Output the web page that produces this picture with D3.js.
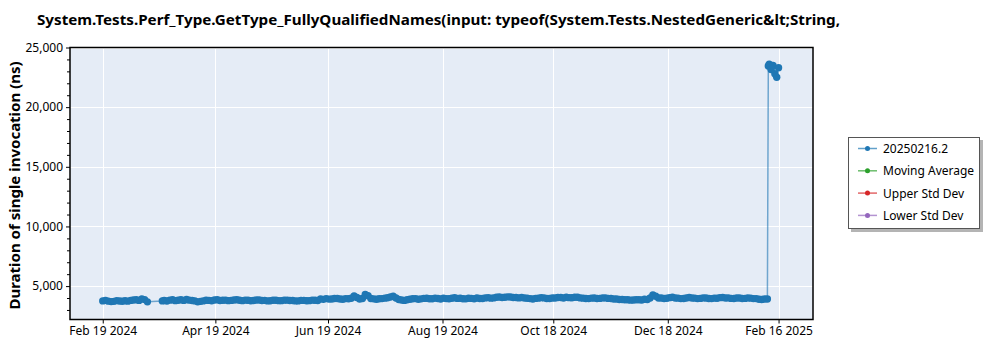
<!DOCTYPE html>
<html>
<head>
<meta charset="utf-8">
<script src="https://cdn.jsdelivr.net/npm/d3@7"></script>
<style>
  body { margin: 0; background: #fff; }
  text { font-family: "Noto Sans", "Open Sans", sans-serif; }
</style>
</head>
<body>
<div id="chart"></div>
<script>
// run dates (one row per month) and measured duration in ns, same row layout
const runDates = [
  "2024-02-19", "2024-02-20T12:00", "2024-02-22", "2024-02-23T12:00", "2024-02-25", "2024-02-26T12:00", "2024-02-28", "2024-02-29T12:00",
  "2024-03-02", "2024-03-03T12:00", "2024-03-05", "2024-03-06T12:00", "2024-03-08", "2024-03-09T12:00", "2024-03-11", "2024-03-12T12:00", "2024-03-14", "2024-03-22", "2024-03-23", "2024-03-24T12:00", "2024-03-26", "2024-03-27T12:00", "2024-03-29", "2024-03-30T12:00",
  "2024-04-01", "2024-04-02T12:00", "2024-04-04", "2024-04-05T12:00", "2024-04-07", "2024-04-08T12:00", "2024-04-10", "2024-04-11T12:00", "2024-04-13", "2024-04-14T12:00", "2024-04-16", "2024-04-17T12:00", "2024-04-19", "2024-04-20T12:00", "2024-04-22", "2024-04-23T12:00", "2024-04-25", "2024-04-26T12:00", "2024-04-28", "2024-04-29T12:00",
  "2024-05-01", "2024-05-02T12:00", "2024-05-04", "2024-05-05T12:00", "2024-05-07", "2024-05-08T12:00", "2024-05-10", "2024-05-11T12:00", "2024-05-13", "2024-05-14T12:00", "2024-05-16", "2024-05-17T12:00", "2024-05-19", "2024-05-20T12:00", "2024-05-22", "2024-05-23T12:00", "2024-05-25", "2024-05-26T12:00", "2024-05-28", "2024-05-29T12:00", "2024-05-31",
  "2024-06-01T12:00", "2024-06-03", "2024-06-04T12:00", "2024-06-06", "2024-06-07T12:00", "2024-06-09", "2024-06-10T12:00", "2024-06-12", "2024-06-13T12:00", "2024-06-15", "2024-06-16T12:00", "2024-06-18", "2024-06-19T12:00", "2024-06-21", "2024-06-22T12:00", "2024-06-24", "2024-06-25T12:00", "2024-06-27", "2024-06-28T12:00", "2024-06-30",
  "2024-07-01T12:00", "2024-07-03", "2024-07-04T12:00", "2024-07-06", "2024-07-07T12:00", "2024-07-09", "2024-07-10T12:00", "2024-07-12", "2024-07-13T12:00", "2024-07-15", "2024-07-16T12:00", "2024-07-18", "2024-07-19T12:00", "2024-07-21", "2024-07-22T12:00", "2024-07-24", "2024-07-25T12:00", "2024-07-27", "2024-07-28T12:00", "2024-07-30", "2024-07-31T12:00",
  "2024-08-02", "2024-08-03T12:00", "2024-08-05", "2024-08-06T12:00", "2024-08-08", "2024-08-09T12:00", "2024-08-11", "2024-08-12T12:00", "2024-08-14", "2024-08-15T12:00", "2024-08-17", "2024-08-18T12:00", "2024-08-20", "2024-08-21T12:00", "2024-08-23", "2024-08-24T12:00", "2024-08-26", "2024-08-27T12:00", "2024-08-29", "2024-08-30T12:00",
  "2024-09-01", "2024-09-02T12:00", "2024-09-04", "2024-09-05T12:00", "2024-09-07", "2024-09-08T12:00", "2024-09-10", "2024-09-11T12:00", "2024-09-13", "2024-09-14T12:00", "2024-09-16", "2024-09-17T12:00", "2024-09-19", "2024-09-20T12:00", "2024-09-22", "2024-09-23T12:00", "2024-09-25", "2024-09-26T12:00", "2024-09-28", "2024-09-29T12:00",
  "2024-10-01", "2024-10-02T12:00", "2024-10-04", "2024-10-05T12:00", "2024-10-07", "2024-10-08T12:00", "2024-10-10", "2024-10-11T12:00", "2024-10-13", "2024-10-14T12:00", "2024-10-16", "2024-10-17T12:00", "2024-10-19", "2024-10-20T12:00", "2024-10-22", "2024-10-23T12:00", "2024-10-25", "2024-10-26T12:00", "2024-10-28", "2024-10-29T12:00", "2024-10-31",
  "2024-11-01T12:00", "2024-11-03", "2024-11-04T12:00", "2024-11-06", "2024-11-07T12:00", "2024-11-09", "2024-11-10T12:00", "2024-11-12", "2024-11-13T12:00", "2024-11-15", "2024-11-16T12:00", "2024-11-18", "2024-11-19T12:00", "2024-11-21", "2024-11-22T12:00", "2024-11-24", "2024-11-25T12:00", "2024-11-27", "2024-11-28T12:00", "2024-11-30",
  "2024-12-01T12:00", "2024-12-03", "2024-12-04T12:00", "2024-12-06", "2024-12-07T12:00", "2024-12-09", "2024-12-10T12:00", "2024-12-12", "2024-12-13T12:00", "2024-12-15", "2024-12-16T12:00", "2024-12-18", "2024-12-19T12:00", "2024-12-21", "2024-12-22T12:00", "2024-12-24", "2024-12-25T12:00", "2024-12-27", "2024-12-28T12:00", "2024-12-30", "2024-12-31T12:00",
  "2025-01-02", "2025-01-03T12:00", "2025-01-05", "2025-01-06T12:00", "2025-01-08", "2025-01-09T12:00", "2025-01-11", "2025-01-12T12:00", "2025-01-14", "2025-01-15T12:00", "2025-01-17", "2025-01-18T12:00", "2025-01-20", "2025-01-21T12:00", "2025-01-23", "2025-01-24T12:00", "2025-01-26", "2025-01-27T12:00", "2025-01-29", "2025-01-30T12:00",
  "2025-02-01", "2025-02-02T12:00", "2025-02-04", "2025-02-05T12:00", "2025-02-07", "2025-02-08T12:00", "2025-02-10T00:00", "2025-02-10T12:00", "2025-02-11", "2025-02-12", "2025-02-13", "2025-02-14", "2025-02-15", "2025-02-16"
];
const durationNs = [
  3760, 3800, 3740, 3700, 3720, 3780, 3750, 3730,
  3770, 3740, 3800, 3830, 3860, 3800, 3930, 3870, 3680, 3760, 3790, 3750, 3820, 3860, 3780, 3810,
  3850, 3800, 3880, 3820, 3790, 3760, 3680, 3720, 3760, 3810, 3800, 3770, 3830, 3860, 3790, 3810, 3820, 3780, 3800, 3840,
  3850, 3810, 3780, 3820, 3810, 3770, 3790, 3830, 3830, 3790, 3800, 3760, 3770, 3810, 3810, 3780, 3780, 3820, 3820, 3790, 3790,
  3760, 3760, 3800, 3800, 3770, 3780, 3820, 3810, 3790, 3930, 3890, 3950, 3910, 3920, 3960, 3960, 3920, 3900, 3950, 3940,
  3980, 4180, 4050, 3920, 3960, 4300, 4200, 3960, 3930, 3900, 3940, 3950, 3990, 4020, 4080, 4160, 4000, 3880, 3840, 3800, 3860,
  3900, 3940, 3950, 3900, 3930, 3970, 3980, 3940, 3940, 3990, 3960, 3920, 3990, 3950, 3940, 3980, 4020, 3970, 3980, 3940,
  3930, 3980, 3970, 3940, 4000, 3960, 3960, 4010, 4030, 3990, 4010, 4060, 4080, 4040, 4060, 4100, 4090, 4040, 4050, 4010,
  4040, 4000, 3980, 3950, 3920, 3970, 3990, 4030, 4010, 3960, 3960, 4000, 4000, 4050, 4040, 4000, 4070, 4030, 4020, 4060, 4060,
  4010, 3990, 3960, 3950, 3990, 4000, 3960, 3970, 4010, 4010, 3970, 3960, 3920, 3920, 3880, 3880, 3850, 3850, 3820, 3830,
  3850, 3860, 3830, 3900, 3880, 4000, 4250, 4150, 4000, 4000, 3960, 3980, 4030, 4060, 4000, 3990, 3950, 3960, 4000, 4050, 4000,
  3990, 3950, 3970, 4010, 4000, 3960, 3950, 3990, 3980, 4030, 4040, 4000, 4010, 3970, 3960, 4000, 4000, 3960, 3970, 4010,
  3990, 3950, 3950, 3900, 3880, 3920, 3920, 23450, 23600, 23150, 23500, 22800, 22500, 23300
];
const xTickDates = ["2024-02-19T00:00", "2024-04-19T12:00", "2024-06-19T00:00", "2024-08-19T12:00",
  "2024-10-18T00:00", "2024-12-18T12:00", "2025-02-16T00:00"];
const xDomain = ["2024-02-01T10:00", "2025-03-06T12:00"];
const yDomain = [2200, 25000];
const yMajorTicks = [5000, 10000, 15000, 20000, 25000];
const seriesNames = ["20250216.2", "Moving Average", "Upper Std Dev", "Lower Std Dev"];
const seriesColors = ["#1f77b4", "#2ca02c", "#d62728", "#9467bd"];
const titleText = "System.Tests.Perf_Type.GetType_FullyQualifiedNames(input: typeof(System.Tests.NestedGeneric&lt;String,";

const W = 1000, H = 350;
const plot = { left: 70, right: 813, top: 47.5, bottom: 319.5 };

const parse = s => new Date(s.length > 10 ? s : s + "T00:00");
const data = runDates.map((d, i) => ({ date: parse(d), value: durationNs[i] }));

const svg = d3.select("#chart").append("svg")
  .attr("width", W)
  .attr("height", H);

const x = d3.scaleTime()
  .domain(xDomain.map(parse))
  .range([plot.left, plot.right]);
const y = d3.scaleLinear()
  .domain(yDomain)
  .range([plot.bottom, plot.top]);

// plot background
svg.append("rect")
  .attr("x", plot.left)
  .attr("y", plot.top)
  .attr("width", plot.right - plot.left)
  .attr("height", plot.bottom - plot.top)
  .attr("fill", "#e5ecf6");

const xTicks = xTickDates.map(parse);

// grid
svg.append("g")
  .selectAll("line")
  .data(xTicks)
  .enter()
  .append("line")
  .attr("x1", d => Math.round(x(d)) + 0.5)
  .attr("x2", d => Math.round(x(d)) + 0.5)
  .attr("y1", plot.top)
  .attr("y2", plot.bottom)
  .attr("stroke", "#fff")
  .attr("stroke-width", 1);
svg.append("g")
  .selectAll("line")
  .data(yMajorTicks)
  .enter()
  .append("line")
  .attr("x1", plot.left)
  .attr("x2", plot.right)
  .attr("y1", d => Math.round(y(d)) + 0.5)
  .attr("y2", d => Math.round(y(d)) + 0.5)
  .attr("stroke", "#fff")
  .attr("stroke-width", 1);

// series
svg.append("clipPath").attr("id", "clip")
  .append("rect")
  .attr("x", plot.left)
  .attr("y", plot.top)
  .attr("width", plot.right - plot.left)
  .attr("height", plot.bottom - plot.top);

const series = svg.append("g").attr("clip-path", "url(#clip)");
series.append("path")
  .datum(data)
  .attr("fill", "none")
  .attr("stroke", seriesColors[0])
  .attr("stroke-opacity", 0.6)
  .attr("stroke-width", 1.5)
  .attr("d", d3.line().x(d => x(d.date)).y(d => y(d.value)));
series.selectAll("circle")
  .data(data)
  .enter()
  .append("circle")
  .attr("cx", d => x(d.date))
  .attr("cy", d => y(d.value))
  .attr("r", 3.7)
  .attr("fill", seriesColors[0]);

// axes
const xAxis = d3.axisBottom(x)
  .tickValues(xTicks)
  .tickFormat(d3.timeFormat("%b %d %Y"))
  .tickSize(4)
  .tickSizeOuter(0);
const gx = svg.append("g")
  .attr("transform", `translate(0,${plot.bottom})`)
  .call(xAxis);
gx.select(".domain").remove();
gx.selectAll("text")
  .attr("dy", "0.71em")
  .attr("y", 7)
  .style("font-size", "12px")
  .attr("fill", "#000");

const yMinor = d3.axisLeft(y)
  .tickValues(d3.range(3000, 25001, 1000).filter(v => v % 5000 !== 0))
  .tickSize(3)
  .tickFormat("")
  .tickSizeOuter(0);
const gym = svg.append("g")
  .attr("transform", `translate(${plot.left},0)`)
  .call(yMinor);
gym.select(".domain").remove();

const yAxis = d3.axisLeft(y)
  .tickValues(yMajorTicks)
  .tickFormat(d3.format(","))
  .tickSize(4)
  .tickSizeOuter(0);
const gy = svg.append("g")
  .attr("transform", `translate(${plot.left},0)`)
  .call(yAxis);
gy.select(".domain").remove();
gy.selectAll("text")
  .attr("x", -7)
  .style("font-size", "12px")
  .attr("fill", "#000");

// frame
svg.append("rect")
  .attr("x", plot.left)
  .attr("y", plot.top)
  .attr("width", plot.right - plot.left)
  .attr("height", plot.bottom - plot.top)
  .attr("fill", "none")
  .attr("stroke", "#000")
  .attr("stroke-width", 1.5);

// titles
svg.append("text")
  .attr("x", 37)
  .attr("y", 25)
  .attr("textLength", 803)
  .attr("lengthAdjust", "spacingAndGlyphs")
  .style("font-size", "15px")
  .style("font-weight", "bold")
  .text(titleText);

svg.append("text")
  .attr("transform", `translate(20,${(plot.top + plot.bottom) / 2 + 2}) rotate(-90)`)
  .attr("text-anchor", "middle")
  .style("font-size", "15px")
  .style("font-weight", "bold")
  .text("Duration of single invocation (ns)");

// legend
const legend = svg.append("g")
  .attr("transform", "translate(848,137)");
legend.append("rect")
  .attr("x", 3)
  .attr("y", 3)
  .attr("width", 132)
  .attr("height", 92)
  .attr("fill", "#b4b4b4");
legend.append("rect")
  .attr("x", 0.5)
  .attr("y", 0.5)
  .attr("width", 131)
  .attr("height", 91)
  .attr("fill", "#fff")
  .attr("stroke", "#555")
  .attr("stroke-width", 1);
const rows = legend.selectAll("g.row")
  .data(seriesNames)
  .enter()
  .append("g")
  .attr("class", "row")
  .attr("transform", (d, i) => `translate(0,${11.5 + i * 22.3})`);
rows.append("line")
  .attr("x1", 10)
  .attr("x2", 29)
  .attr("stroke", (d, i) => seriesColors[i])
  .attr("stroke-opacity", 0.7)
  .attr("stroke-width", 1.5);
rows.append("circle")
  .attr("cx", 19.5)
  .attr("r", 2.5)
  .attr("fill", (d, i) => seriesColors[i]);
rows.append("text")
  .attr("x", 35)
  .attr("y", 4.5)
  .style("font-size", "12px")
  .text(d => d);
</script>
</body>
</html>
